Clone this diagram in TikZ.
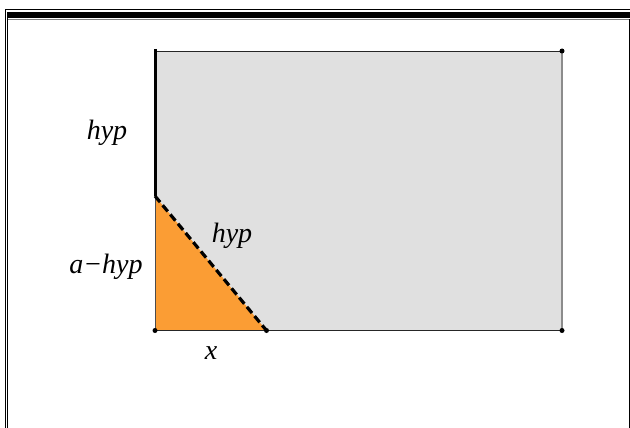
\documentclass[tikz,border=0pt]{standalone}
\usepackage{fontspec}
\setmainfont{Liberation Serif}
\begin{document}
\begin{tikzpicture}[x=1pt,y=-1pt,
  lab/.style={font=\fontsize{28}{30}\selectfont\itshape, inner sep=0pt},
  dot/.style={circle, fill=black, inner sep=0pt, minimum size=5pt}]
\useasboundingbox (0,0) rectangle (630,428);
\definecolor{rectgray}{RGB}{224,224,224}
\definecolor{triorange}{RGB}{251,157,52}
% frame
\draw[line width=1pt] (5,428) -- (5,10) -- (630,10);
\fill (7,12) rectangle (630,18.5);
\draw[line width=0.6pt, gray] (7,19) -- (630,19);
\draw[line width=1.4pt] (7.5,12) -- (7.5,428);
\draw[line width=1pt] (629,19) -- (629,428);
% coordinates
\coordinate (tl) at (155,51);
\coordinate (tr) at (562,51);
\coordinate (br) at (562,330.5);
\coordinate (bl) at (155,330.5);
\coordinate (m) at (155,196);
\coordinate (b2) at (266.5,330.5);
% fills
\fill[rectgray] (tl) -- (tr) -- (br) -- (bl) -- cycle;
\fill[triorange] (m) -- (bl) -- (b2) -- cycle;
% edges
\draw[line width=0.8pt, black!85] (tl) -- (tr);
\draw[line width=0.8pt, black!85] (bl) -- (br);
\draw[line width=2pt, black!45] (tr) -- (br);
\draw[line width=0.6pt, black!70] (m) -- (bl);
\draw[line width=3pt] (155,49) -- (m);
\draw[line width=3.2pt, dash pattern=on 8pt off 4pt] (m) -- (b2);
% dots
\node[dot] at (tr) {};
\node[dot] at (br) {};
\node[dot] at (bl) {};
\node[dot] at (b2) {};
% labels
\node[lab] (l1) at (107,133) {hyp};
\node[lab] (l2) at (106,267) {a−hyp};
\node[lab] (l3) at (232,236) {hyp};
\node[lab] (l4) at (211,353) {x};
\end{tikzpicture}
\end{document}
